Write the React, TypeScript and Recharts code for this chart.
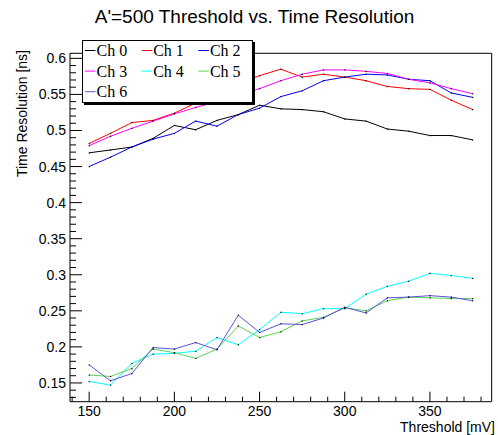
import { LineChart, Line, XAxis, YAxis, ReferenceArea } from 'recharts';

const thresholds = [150, 162.5, 175, 187.5, 200, 212.5, 225, 237.5, 250, 262.5, 275, 287.5, 300, 312.5, 325, 337.5, 350, 362.5, 375];

const ch0 = [0.469, 0.473, 0.477, 0.489, 0.507, 0.501, 0.514, 0.522, 0.535, 0.530, 0.529, 0.526, 0.516, 0.513, 0.502, 0.499, 0.493, 0.493, 0.487];
const ch1 = [0.482, 0.496, 0.511, 0.514, 0.524, 0.538, 0.552, 0.565, 0.576, 0.585, 0.574, 0.578, 0.574, 0.569, 0.561, 0.558, 0.557, 0.542, 0.529];
const ch2 = [0.450, 0.463, 0.477, 0.488, 0.496, 0.513, 0.506, 0.522, 0.531, 0.547, 0.555, 0.569, 0.574, 0.578, 0.577, 0.571, 0.569, 0.552, 0.546];
const ch3 = [0.479, 0.492, 0.503, 0.513, 0.523, 0.532, 0.540, 0.549, 0.558, 0.569, 0.578, 0.584, 0.584, 0.582, 0.579, 0.571, 0.566, 0.558, 0.551];
const ch4 = [0.152, 0.147, 0.177, 0.190, 0.191, 0.194, 0.213, 0.203, 0.224, 0.248, 0.246, 0.253, 0.253, 0.273, 0.284, 0.291, 0.302, 0.299, 0.295];
const ch5 = [0.161, 0.159, 0.170, 0.197, 0.192, 0.184, 0.197, 0.229, 0.213, 0.221, 0.236, 0.241, 0.254, 0.250, 0.264, 0.269, 0.268, 0.267, 0.267];
const ch6 = [0.175, 0.153, 0.163, 0.199, 0.197, 0.206, 0.196, 0.244, 0.220, 0.232, 0.231, 0.240, 0.255, 0.247, 0.268, 0.269, 0.271, 0.269, 0.264];

const seriesNames = ['Ch 0', 'Ch 1', 'Ch 2', 'Ch 3', 'Ch 4', 'Ch 5', 'Ch 6'];
const seriesValues = [ch0, ch1, ch2, ch3, ch4, ch5, ch6];
const seriesColors = ['#000000', '#ff0000', '#0000ff', '#ff00ff', '#00ffff', '#59d454', '#5954d9'];

const xTicks = [140, 150, 160, 170, 180, 190, 200, 210, 220, 230, 240, 250, 260, 270, 280, 290, 300, 310, 320, 330, 340, 350, 360, 370, 380];
const yTicks = [0.13, 0.14, 0.15, 0.16, 0.17, 0.18, 0.19, 0.2, 0.21, 0.22, 0.23, 0.24, 0.25, 0.26, 0.27, 0.28, 0.29, 0.3, 0.31, 0.32, 0.33, 0.34, 0.35, 0.36, 0.37, 0.38, 0.39, 0.4, 0.41, 0.42, 0.43, 0.44, 0.45, 0.46, 0.47, 0.48, 0.49, 0.5, 0.51, 0.52, 0.53, 0.54, 0.55, 0.56, 0.57, 0.58, 0.59, 0.6];

const X_DOMAIN = [138.75, 386.25];
const Y_DOMAIN = [0.124, 0.607];

const PLOT_LEFT = 70;
const PLOT_BOTTOM = 401.7;
const SANS = '"Liberation Sans", Arial, sans-serif';
const SERIF = '"Liberation Serif", "Times New Roman", serif';

const chartData = thresholds.map((t, i) => {
  const row: Record<string, number> = { t };
  seriesValues.forEach((vals, s) => {
    row['ch' + s] = vals[i];
  });
  return row;
});

function XTick(props: any) {
  const { x, payload } = props;
  const v = payload.value;
  const major = v % 50 === 0;
  return (
    <g>
      <line x1={x} x2={x} y1={PLOT_BOTTOM} y2={PLOT_BOTTOM - (major ? 10 : 5)} stroke="#000" />
      {major && (
        <text x={x} y={416} textAnchor="middle" fontFamily={SANS} fontSize={14} fill="#000">
          {v}
        </text>
      )}
    </g>
  );
}

function YTick(props: any) {
  const { y, payload } = props;
  const v = payload.value;
  const major = Math.abs(v * 20 - Math.round(v * 20)) < 1e-6;
  return (
    <g>
      <line x1={PLOT_LEFT} x2={PLOT_LEFT + (major ? 12 : 6)} y1={y} y2={y} stroke="#000" />
      {major && (
        <text x={66} y={y + 5} textAnchor="end" fontFamily={SANS} fontSize={14} fill="#000">
          {String(Math.round(v * 100) / 100)}
        </text>
      )}
    </g>
  );
}

function PointDot(props: any) {
  const { cx, cy } = props;
  if (cx == null || cy == null) return null;
  return <rect x={cx - 0.5} y={cy - 0.5} width={1.2} height={1.2} fill="#000" />;
}

function ChartLegend() {
  return (
    <div
      style={{
        position: 'absolute',
        left: 82,
        top: 40,
        width: 169,
        height: 61,
        background: '#fff',
        border: '1px solid #000',
        boxShadow: '2px 2px 0 #000',
      }}
    >
      <svg width={169} height={61}>
        {seriesNames.map((name, i) => {
          const col = i % 3;
          const row = Math.floor(i / 3);
          const x0 = 2 + col * 56.7;
          const base = 15 + row * 20.6;
          return (
            <g key={name}>
              <line x1={x0} x2={x0 + 10.5} y1={base - 5.5} y2={base - 5.5} stroke={seriesColors[i]} />
              <text x={x0 + 11.5} y={base} fontFamily={SERIF} fontSize={16} fill="#000">
                {name}
              </text>
            </g>
          );
        })}
      </svg>
    </div>
  );
}

export default function App() {
  return (
    <div style={{ position: 'absolute', left: 0, top: 0, width: 498, height: 435, background: '#fff' }}>
      <svg width={498} height={40} style={{ position: 'absolute', left: 0, top: 0 }}>
        <text x={254.5} y={23} textAnchor="middle" fontFamily={SANS} fontSize={19} fill="#000">
          A'=500 Threshold vs. Time Resolution
        </text>
      </svg>
      <div style={{ position: 'absolute', left: 0, top: 0 }}>
        <LineChart width={498} height={435} data={chartData} margin={{ top: 53.3, right: 6.3, left: 0, bottom: 0 }}>
          <XAxis
            dataKey="t"
            type="number"
            domain={X_DOMAIN}
            allowDataOverflow
            ticks={xTicks}
            interval={0}
            tick={<XTick />}
            tickLine={false}
            axisLine={false}
            height={33.3}
            label={{
              content: () => (
                <text x={495} y={432} textAnchor="end" fontFamily={SANS} fontSize={14} fill="#000">
                  Threshold [mV]
                </text>
              ),
            }}
          />
          <YAxis
            type="number"
            domain={Y_DOMAIN}
            allowDataOverflow
            ticks={yTicks}
            interval={0}
            tick={<YTick />}
            tickLine={false}
            axisLine={false}
            width={70}
            label={{
              content: () => (
                <text
                  x={27}
                  y={50}
                  transform="rotate(-90 27 50)"
                  textAnchor="end"
                  fontFamily={SANS}
                  fontSize={14}
                  fill="#000"
                >
                  Time Resolution [ns]
                </text>
              ),
            }}
          />
          <ReferenceArea
            x1={X_DOMAIN[0]}
            x2={X_DOMAIN[1]}
            y1={Y_DOMAIN[0]}
            y2={Y_DOMAIN[1]}
            fill="none"
            stroke="#000"
            strokeWidth={1}
            ifOverflow="visible"
          />
          {seriesNames.map((name, i) => (
            <Line
              key={name}
              dataKey={'ch' + i}
              name={name}
              type="linear"
              stroke={seriesColors[i]}
              strokeWidth={1}
              dot={<PointDot />}
              activeDot={false}
              isAnimationActive={false}
            />
          ))}
        </LineChart>
      </div>
      <ChartLegend />
    </div>
  );
}
